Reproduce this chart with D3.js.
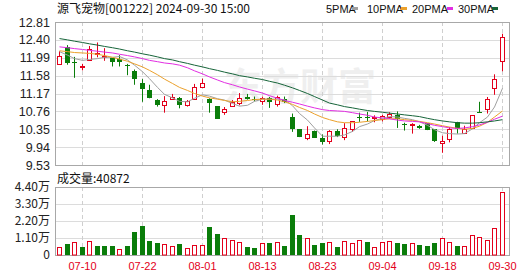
<!DOCTYPE html>
<html>
<head>
<meta charset="utf-8">
<script src="https://cdn.jsdelivr.net/npm/d3@7"></script>
<style>
  body { margin: 0; background: #fff; }
  text { font-family: "Liberation Sans", Arial, sans-serif; }
  .cjk { font-family: "Noto Sans CJK SC", "DejaVu Sans", sans-serif; }
</style>
</head>
<body>
<div id="chart"></div>
<script>
// 交易日
const dates = ["07-05","07-08","07-09","07-10","07-11","07-12","07-15","07-16","07-17","07-18","07-19",
  "07-22","07-23","07-24","07-25","07-26","07-29","07-30","07-31","08-01","08-02","08-05","08-06","08-07",
  "08-08","08-09","08-12","08-13","08-14","08-15","08-16","08-19","08-20","08-21","08-22","08-23","08-26",
  "08-27","08-28","08-29","08-30","09-02","09-03","09-04","09-05","09-06","09-09","09-10","09-11","09-12",
  "09-13","09-18","09-19","09-20","09-23","09-24","09-25","09-26","09-27","09-30"]

const open  = [11.83,12.24,11.90,11.77,11.93,12.09,12.02,11.98,11.95,11.82,11.69,11.41,11.26,11.01,10.90,11.04,11.07,10.90,11.05,11.30,
  11.04,10.88,10.75,10.88,10.96,11.10,11.05,11.01,11.07,10.94,11.05,10.63,10.35,10.13,10.32,10.16,10.08,10.32,10.17,10.35,
  10.63,10.62,10.59,10.58,10.63,10.68,10.46,10.43,10.43,10.49,10.35,10.03,10.12,10.52,10.27,10.38,10.75,10.81,11.30,11.93]
const high  = [12.14,12.28,12.01,11.85,12.26,12.34,12.21,11.98,12.05,11.85,11.72,11.50,11.37,11.04,11.11,11.16,11.09,11.02,11.39,11.51,
  11.06,10.88,10.86,11.02,11.18,11.16,11.10,11.10,11.09,11.12,11.10,10.71,10.35,10.42,10.32,10.23,10.33,10.35,10.49,10.53,
  10.73,10.75,10.67,10.68,10.74,10.76,10.50,10.49,10.45,10.49,10.35,10.20,10.40,10.52,10.43,10.67,10.98,11.09,11.61,12.54]
const low   = [11.83,11.83,11.53,11.70,11.93,12.00,11.92,11.79,11.79,11.59,11.37,10.98,11.06,10.87,10.73,11.04,10.83,10.87,11.03,11.30,
  10.73,10.59,10.68,10.88,10.90,11.03,10.99,10.91,10.84,10.87,10.95,10.29,10.17,10.10,10.16,10.00,10.01,10.17,10.10,10.29,
  10.52,10.53,10.51,10.53,10.59,10.38,10.32,10.25,10.36,10.33,10.06,9.81,10.05,10.25,10.25,10.36,10.74,10.71,11.14,11.68]
const close = [12.02,11.88,11.88,11.80,12.18,12.11,12.04,11.88,11.88,11.80,11.50,11.28,11.08,10.90,10.99,11.09,10.90,11.00,11.33,11.40,
  10.94,10.59,10.82,10.97,11.07,11.05,11.03,11.07,10.98,11.09,10.98,10.35,10.17,10.23,10.16,10.06,10.31,10.21,10.38,10.53,
  10.61,10.60,10.62,10.65,10.71,10.59,10.44,10.46,10.39,10.33,10.08,10.08,10.36,10.35,10.36,10.67,10.74,11.04,11.51,12.47]

const volume = [5400,7100,8200,5200,8900,5800,5800,5800,3900,5800,14900,18800,9000,7800,7100,5800,7100,4500,6700,6700,
  18100,13600,11000,9500,8400,5200,4500,7600,7600,8200,5800,25900,12900,10800,6500,7600,8600,5200,9000,7600,
  9500,8200,5000,8200,8900,7600,6900,7600,6500,5800,7600,10800,8200,5800,5800,12700,11400,9500,17300,40872]

// 均线
const ma5  = [12.13,12.05,11.97,11.93,11.95,11.97,12.00,12.00,12.02,11.94,11.82,11.67,11.51,11.31,11.15,11.07,10.99,10.98,11.06,11.14,
  11.11,11.05,11.02,10.94,10.88,10.90,10.99,11.04,11.04,11.04,11.03,10.89,10.71,10.56,10.38,10.19,10.19,10.19,10.22,10.30,
  10.41,10.47,10.55,10.60,10.64,10.63,10.60,10.57,10.52,10.44,10.34,10.27,10.25,10.24,10.25,10.36,10.50,10.63,10.86,11.29]
const ma10 = [12.15,12.13,12.11,12.10,12.09,12.07,12.04,12.00,11.96,11.91,11.85,11.78,11.70,11.60,11.50,11.40,11.31,11.24,11.17,11.11,
  11.07,11.04,11.01,10.98,10.99,11.01,11.03,11.04,11.04,11.02,10.98,10.92,10.85,10.78,10.70,10.62,10.57,10.52,10.50,10.50,
  10.51,10.53,10.55,10.57,10.59,10.59,10.57,10.55,10.53,10.50,10.47,10.43,10.40,10.37,10.35,10.37,10.42,10.51,10.63,10.77]
const ma20 = [12.24,12.22,12.20,12.18,12.16,12.14,12.12,12.10,12.07,12.04,12.01,11.97,11.93,11.90,11.87,11.85,11.82,11.76,11.69,11.62,
  11.55,11.48,11.42,11.37,11.32,11.27,11.23,11.18,11.12,11.06,11.01,10.97,10.93,10.88,10.84,10.80,10.78,10.77,10.76,10.73,
  10.70,10.67,10.63,10.61,10.59,10.56,10.54,10.53,10.52,10.48,10.44,10.41,10.38,10.37,10.38,10.41,10.45,10.51,10.58,10.65]
const ma30 = [12.43,12.40,12.37,12.34,12.31,12.28,12.25,12.22,12.19,12.15,12.12,12.08,12.05,12.01,11.97,11.94,11.90,11.86,11.82,11.78,
  11.74,11.70,11.66,11.62,11.58,11.55,11.52,11.49,11.45,11.41,11.36,11.30,11.24,11.17,11.10,11.02,10.95,10.91,10.87,10.84,
  10.81,10.78,10.76,10.74,10.72,10.70,10.68,10.66,10.64,10.60,10.57,10.54,10.52,10.50,10.49,10.49,10.50,10.52,10.54,10.57]

const priceTicks = [12.81,12.40,11.99,11.58,11.17,10.76,10.35,9.94,9.53]
const volTicks = [0,11000,22000,33000,44000]
const dateTicks = ["07-10","07-22","08-01","08-13","08-23","09-04","09-18","09-30"]
const maNames = ["5PMA","10PMA","20PMA","30PMA"]

const RED = "#e3001b", GREEN = "#0a7d0a"
const MA_COLORS = ["#a0a0a0", "#eba12c", "#e22ee2", "#17653a"]

// 布局
const W = 530, H = 276
const LEFT = 55, RIGHT = 509
const P = { TOP: 22, BOTTOM: 165 }
const V = { TOP: 187, BOTTOM: 255 }

const svg = d3.select("#chart").append("svg")
  .attr("width", W).attr("height", H)

const x = d3.scaleBand().domain(dates).range([56, 506])
const step = x.step()
const cx = d => Math.floor(x(d) + step / 2) + 0.5

const y = d3.scaleLinear().domain([9.53, 12.81]).range([P.BOTTOM, P.TOP])
const yv = d3.scaleLinear().domain([0, 44000]).range([V.BOTTOM, V.TOP])

// 水印
svg.append("text")
  .attr("class", "cjk")
  .attr("x", 300).attr("y", 100)
  .attr("text-anchor", "middle")
  .attr("font-size", "38px")
  .attr("font-weight", "bold")
  .attr("fill", "#efefef")
  .text("东方财富")

// 网格
function grid(top, bottom, ticks, scale) {
  svg.append("g").selectAll("line").data(ticks).join("line")
    .attr("x1", LEFT).attr("x2", RIGHT)
    .attr("y1", d => Math.round(scale(d)) + 0.5).attr("y2", d => Math.round(scale(d)) + 0.5)
    .attr("stroke", "#dcdcdc")
  svg.append("g").selectAll("line").data(dateTicks).join("line")
    .attr("x1", d => cx(d)).attr("x2", d => cx(d))
    .attr("y1", top).attr("y2", bottom)
    .attr("stroke", "#cfcfcf")
    .attr("stroke-dasharray", "4,3")
  svg.append("rect")
    .attr("x", LEFT + 0.5).attr("y", top + 0.5)
    .attr("width", RIGHT - LEFT).attr("height", bottom - top)
    .attr("fill", "none").attr("stroke", "#a8a8a8")
}
grid(P.TOP, P.BOTTOM, priceTicks, y)
grid(V.TOP, V.BOTTOM, volTicks, yv)

// 坐标轴文字
const yAxis = svg.append("g")
  .attr("transform", `translate(${LEFT - 2},0)`)
  .call(d3.axisLeft(y).tickValues(priceTicks).tickSize(0).tickFormat(d3.format(".2f")))
const vAxis = svg.append("g")
  .attr("transform", `translate(${LEFT - 2},0)`)
  .call(d3.axisLeft(yv).tickValues(volTicks).tickSize(0)
    .tickFormat(d => d === 0 ? "0" : (d / 10000).toFixed(2) + "万"))
const xAxis = svg.append("g")
  .attr("transform", `translate(0,${V.BOTTOM + 4})`)
  .call(d3.axisBottom(x).tickValues(dateTicks).tickSize(0))
xAxis.selectAll("text").attr("fill", RED).attr("font-size", "11px")
  .attr("transform", d => `translate(${cx(d) - x(d) - x.bandwidth() / 2},0)`)
;[yAxis, vAxis, xAxis].forEach(a => a.select(".domain").remove())
;[yAxis, vAxis].forEach(a => a.selectAll("text").attr("fill", "#222").attr("font-size", "12.5px"))
vAxis.selectAll("text").attr("class", "cjk").attr("font-size", "12px")

// K线
const bars = dates.map((d, i) => ({
  d, o: open[i], h: high[i], l: low[i], c: close[i], v: volume[i],
  up: close[i] >= open[i],
  volUp: i === 0 ? close[i] >= open[i] : close[i] >= close[i - 1]
}))

const k = svg.append("g")
k.selectAll("line.wick").data(bars).join("line")
  .attr("x1", b => cx(b.d)).attr("x2", b => cx(b.d))
  .attr("y1", b => y(b.h)).attr("y2", b => y(b.l))
  .attr("stroke", b => b.up ? RED : GREEN)
k.selectAll("rect").data(bars).join("rect")
  .attr("x", b => b.up ? cx(b.d) - 2 : cx(b.d) - 2.5)
  .attr("width", b => b.up ? 4 : 5)
  .attr("y", b => Math.round(y(Math.max(b.o, b.c))) + (b.up ? 0.5 : 0))
  .attr("height", b => Math.max(1, Math.round(Math.abs(y(b.o) - y(b.c)))))
  .attr("fill", b => b.up ? "#fff" : GREEN)
  .attr("stroke", b => b.up ? RED : "none")

// 均线
const line = d3.line().x((v, i) => cx(dates[i])).y(v => y(v))
;[ma5, ma10, ma20, ma30].forEach((m, i) => {
  svg.append("path")
    .attr("d", line(m))
    .attr("fill", "none")
    .attr("stroke", MA_COLORS[i])
    .attr("stroke-width", 1)
})

// 成交量
svg.append("g").selectAll("rect").data(bars).join("rect")
  .attr("x", b => b.volUp ? cx(b.d) - 2 : cx(b.d) - 2.5)
  .attr("width", b => b.volUp ? 4 : 5)
  .attr("y", b => Math.round(yv(b.v)) + (b.volUp ? 0.5 : 0))
  .attr("height", b => V.BOTTOM - Math.round(yv(b.v)) - (b.volUp ? 0.5 : 0))
  .attr("fill", b => b.volUp ? "#fff" : GREEN)
  .attr("stroke", b => b.volUp ? RED : "none")

// 标题和图例
svg.append("text")
  .attr("class", "cjk")
  .attr("x", 57).attr("y", 13)
  .attr("font-size", "12px")
  .attr("fill", "#111")
  .text("源飞宠物[001222] 2024-09-30 15:00")

const legendX = [326, 367, 412, 458]
const legendBox = [352, 401, 447, 492]
maNames.forEach((n, i) => {
  svg.append("text")
    .attr("x", legendX[i]).attr("y", 13)
    .attr("font-size", "11px")
    .attr("font-family", "'Liberation Serif', serif")
    .attr("fill", "#111")
    .text(n)
  svg.append("rect")
    .attr("x", legendBox[i]).attr("y", 7)
    .attr("width", 6).attr("height", 3)
    .attr("fill", MA_COLORS[i])
})

svg.append("text")
  .attr("class", "cjk")
  .attr("x", 57).attr("y", 183)
  .attr("font-size", "12px")
  .attr("fill", "#111")
  .text("成交量:" + volume[volume.length - 1])
</script>
</body>
</html>
